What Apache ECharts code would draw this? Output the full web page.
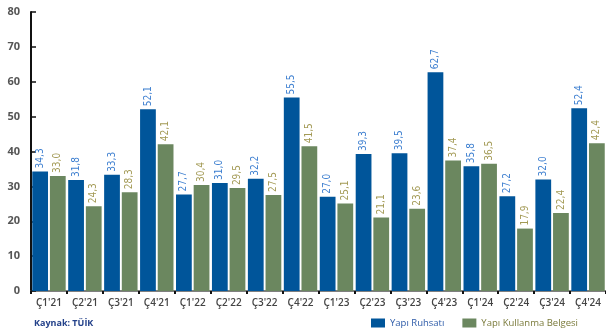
<!DOCTYPE html>
<html>
<head>
<meta charset="utf-8">
<script src="https://cdn.jsdelivr.net/npm/echarts@6/dist/echarts.min.js"></script>
<style>
  html, body { margin: 0; padding: 0; background: #fff; }
  #chart { width: 606px; height: 329px; }
</style>
</head>
<body>
<div id="chart"></div>
<script>
// Quarterly categories (Ç = çeyrek)
const quarters = ["Ç1'21","Ç2'21","Ç3'21","Ç4'21","Ç1'22","Ç2'22","Ç3'22","Ç4'22",
                  "Ç1'23","Ç2'23","Ç3'23","Ç4'23","Ç1'24","Ç2'24","Ç3'24","Ç4'24"];
// Yapı Ruhsatı
const ruhsat = [34.3, 31.8, 33.3, 52.1, 27.7, 31.0, 32.2, 55.5, 27.0, 39.3, 39.5, 62.7, 35.8, 27.2, 32.0, 52.4];
// Yapı Kullanma Belgesi
const kullanma = [33.0, 24.3, 28.3, 42.1, 30.4, 29.5, 27.5, 41.5, 25.1, 21.1, 23.6, 37.4, 36.5, 17.9, 22.4, 42.4];
const yTicks = [0, 10, 20, 30, 40, 50, 60, 70, 80];

const labelFont = "'Liberation Sans Narrow', 'DejaVu Sans Condensed', 'Roboto', sans-serif";
const fmt = p => p.value.toFixed(1).replace('.', ',');

const chart = echarts.init(document.getElementById('chart'), null, { renderer: 'canvas' });
chart.setOption({
  animation: false,
  backgroundColor: '#ffffff',
  title: {
    text: 'Kaynak: TÜİK',
    left: 29, top: 314,
    textStyle: { fontSize: 9, fontWeight: 'bold', color: '#23418a', fontFamily: 'Open Sans, sans-serif' }
  },
  legend: {
    left: 366, top: 313,
    itemWidth: 14, itemHeight: 9, itemGap: 18,
    icon: 'rect',
    textStyle: { fontSize: 9.5, fontFamily: 'Open Sans, sans-serif' },
    data: [
      { name: 'Yapı Ruhsatı', textStyle: { color: '#2c5aa8' } },
      { name: 'Yapı Kullanma Belgesi', textStyle: { color: '#7a7a3a' } }
    ]
  },
  grid: { left: 31, right: -1, top: 12, bottom: 38 },
  xAxis: {
    type: 'category',
    data: quarters,
    axisLine: { lineStyle: { color: '#555', width: 1.5 } },
    axisTick: { show: true, length: 3, lineStyle: { color: '#111', width: 2 } },
    axisLabel: { fontSize: 10, fontWeight: 600, color: '#444', margin: 7, fontFamily: 'Open Sans, sans-serif' }
  },
  yAxis: {
    type: 'value',
    min: yTicks[0], max: yTicks[yTicks.length - 1], interval: 10,
    splitLine: { show: false },
    axisLine: { show: true, lineStyle: { color: '#111', width: 2 } },
    axisTick: { show: true, inside: true, length: 5, lineStyle: { color: '#111', width: 1.5 } },
    axisLabel: { fontSize: 11, fontWeight: 'bold', color: '#555', margin: 11, fontFamily: 'Open Sans, sans-serif' }
  },
  series: [
    {
      name: 'Yapı Ruhsatı',
      type: 'bar',
      data: ruhsat,
      barGap: '12%',
      barCategoryGap: '7%',
      itemStyle: { color: '#00559a' },
      label: {
        show: true, position: 'top', rotate: 90, distance: 3,
        align: 'left', verticalAlign: 'middle',
        formatter: fmt,
        fontSize: 10, color: '#3d7fd0', fontFamily: labelFont
      }
    },
    {
      name: 'Yapı Kullanma Belgesi',
      type: 'bar',
      data: kullanma,
      itemStyle: { color: '#6b875f' },
      label: {
        show: true, position: 'top', rotate: 90, distance: 3,
        align: 'left', verticalAlign: 'middle',
        formatter: fmt,
        fontSize: 10, color: '#a39a55', fontFamily: labelFont
      }
    }
  ]
});
</script>
</body>
</html>
